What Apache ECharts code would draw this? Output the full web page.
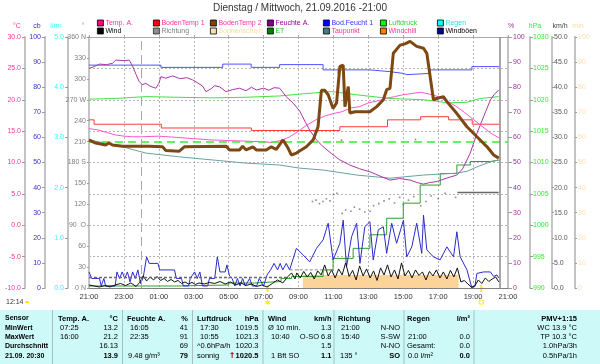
<!DOCTYPE html>
<html><head><meta charset="utf-8">
<script src="https://cdn.jsdelivr.net/npm/echarts@6/dist/echarts.min.js"></script>
<style>html,body{margin:0;padding:0;background:#fff}#c{width:600px;height:364px}</style>
</head><body><div id="c"></div>
<script>
// ---- data (x = hours since 21:00) ----
const xTickLabels = ['21:00','23:00','01:00','03:00','05:00','07:00','09:00','11:00','13:00','15:00','17:00','19:00','21:00'];
const tempA = [[0,15.4],[0.5,15.2],[1,14.8],[1.5,14.4],[2,14.2],[2.5,14.1],[3,14.1],[4,14.2],[5,14.0],[6,13.8],[7,13.6],[8,13.5],[9,13.4],[10,13.3],[10.42,13.2],[11,13.5],[11.5,14.1],[12,15.0],[12.5,16.0],[13,16.8],[13.5,17.4],[14,17.8],[14.5,18.1],[15,18.7],[15.5,18.9],[16,19.5],[16.5,19.8],[17,20.2],[17.5,20.5],[18,20.8],[18.5,21.0],[19,21.2],[19.5,20.9],[20,20.5],[20.5,19.8],[21,19.0],[21.5,18.0],[22,16.9],[22.5,15.8],[23,14.7],[23.5,13.9]];
const bodenTemp1 = [[0,16.8],[0.29,16.1],[4.14,15.5],[9.3,15.1],[14.37,15.7],[17.1,16.8],[19.0,17.3],[20.6,16.8],[21.95,16.1],[23.5,16.1]];
const bodenTemp2 = [[0,13.6],[0.38,13.1],[0.96,12.8],[1.15,13.1],[1.34,12.8],[1.92,12.6],[3.26,12.6],[3.35,12.3],[3.45,12.6],[4.21,12.5],[4.4,11.9],[5.17,11.8],[5.46,12.5],[7.86,12.6],[8.05,12.0],[8.62,12.0],[8.8,12.6],[9.0,12.0],[9.39,12.5],[9.58,12.0],[10.15,12.0],[10.44,12.5],[10.73,12.1],[11.11,13.6],[11.4,12.3],[11.59,11.2],[11.88,11.5],[12.45,12.5],[12.84,13.6],[13.12,15.7],[13.31,21.5],[13.51,21.5],[13.7,20.8],[13.98,18.6],[14.18,19.5],[14.37,25.3],[14.56,25.5],[14.66,18.9],[14.85,22.1],[14.94,17.9],[15.23,18.1],[16.09,18.1],[16.48,18.9],[16.86,20.0],[17.05,21.6],[17.24,21.8],[17.43,27.4],[17.82,28.7],[18.1,28.9],[18.39,29.3],[18.77,28.5],[19.16,28.2],[19.35,27.4],[19.54,23.7],[19.73,20.0],[19.92,20.2],[20.3,20.5],[20.5,19.7],[21.07,17.8],[21.65,15.7],[22.22,14.1],[22.8,12.5],[23.18,11.2],[23.47,10.7]];
const feuchteA = [[0,87.5],[0.3,88.2],[0.6,89.2],[1.0,89.0],[1.34,89.5],[1.53,90.8],[2.0,90.6],[2.3,90.8],[2.49,88.5],[2.7,85.0],[2.87,82.3],[3.05,81.0],[3.26,81.5],[3.5,80.4],[3.83,79.6],[4.0,81.5],[4.12,84.2],[4.4,83.6],[4.79,84.5],[5.2,83.4],[5.6,83.8],[5.94,82.9],[6.2,81.8],[6.5,80.5],[6.7,78.2],[7.0,79.4],[7.2,80.6],[7.47,80.2],[7.85,78.2],[8.2,79.0],[8.62,79.6],[9.0,78.6],[9.3,80.0],[9.58,78.9],[10.0,79.6],[10.3,78.8],[10.6,79.8],[10.92,79.6],[11.3,76.2],[11.7,73.6],[12.07,70.5],[12.4,66.0],[12.64,62.9],[13.03,59.0],[13.41,56.3],[13.9,53.5],[14.37,51.0],[14.94,49.0],[15.5,47.5],[16.09,46.3],[16.6,44.8],[17.24,43.0],[17.8,43.6],[18.39,43.0],[18.8,42.0],[19.16,41.4],[19.5,42.0],[19.92,42.4],[20.5,43.8],[21.07,45.0],[21.4,47.5],[21.65,51.0],[21.84,53.8],[22.22,61.6],[22.6,68.2],[22.99,74.9],[23.2,77.0],[23.47,78.9]];
const bodFeucht1 = [[0,88.8],[4.12,87.9],[7.66,89.2],[9.29,87.9],[10.92,89.0],[13.41,86.9],[14.27,85.5],[14.37,86.9],[16.09,86.2],[17.24,85.5],[18.0,85.0],[18.2,85.5],[19.54,86.9],[21.93,88.2],[23.5,88.2]];
const luftdruck = [[0,1020.1],[1.5,1020.2],[3.26,1020.5],[5,1020.4],[7.1,1020.3],[9,1020.4],[10.9,1020.6],[12.07,1020.9],[13.41,1021.2],[13.9,1021.3],[15.3,1020.8],[17.24,1020.2],[19.16,1020.0],[20.1,1019.7],[20.5,1019.5],[21.65,1019.6],[22.4,1020.2],[23.47,1020.5]];
const pressureRef = 1013.25;
const taupunkt = [[0,13.6],[0.38,13.4],[1.92,12.5],[3.26,11.5],[5.17,10.9],[7.09,10.4],[9.0,9.9],[10.92,9.6],[12.07,9.1],[13.41,8.8],[15.33,8.0],[17.24,7.5],[19.16,8.0],[21.07,8.3],[21.65,8.6],[22.22,9.3],[22.99,10.1],[23.47,10.4]];
const et = [[0,0.04],[5.0,0.06],[8.0,0.1],[9.5,0.13],[11.0,0.19],[11.6,0.23],[13.41,0.36],[13.98,0.59],[15.13,0.79],[16.09,1.06],[17.05,1.39],[18.0,1.69],[18.97,2.05],[20.12,2.28],[21.07,2.45],[21.84,2.52],[23.0,2.55],[23.5,2.55]];
const sonnenschein = [[12.25,5.2],[21.17,5.2]];
const wind = [[0,0.6],[0.3,0.4],[0.6,0.2],[0.9,0.5],[1.2,0.2],[1.5,0.6],[1.8,0.9],[2.1,0.5],[2.4,1.0],[2.7,0.3],[2.9,1.1],[3.1,2.4],[3.3,1.4],[3.5,2.2],[3.7,1.6],[3.9,2.3],[4.1,1.5],[4.3,1.9],[4.5,1.3],[4.7,1.7],[4.9,1.2],[5.1,1.5],[5.3,0.9],[5.5,1.2],[5.7,0.8],[5.9,1.1],[6.1,0.7],[6.3,1.0],[6.6,0.8],[6.9,1.1],[7.2,0.9],[7.5,1.3],[7.8,0.8],[8.1,1.2],[8.4,0.6],[8.7,1.0],[9.0,0.5],[9.3,0.8],[9.6,0.3],[9.9,0.6],[10.2,0.2],[10.5,0.9],[10.8,1.6],[11.1,1.0],[11.4,2.3],[11.6,3.0],[11.8,1.8],[11.9,3.0],[12.1,2.0],[12.3,3.3],[12.5,2.2],[12.7,3.1],[12.9,1.8],[13.1,3.4],[13.3,2.6],[13.5,4.6],[13.7,2.4],[13.9,3.6],[14.1,2.0],[14.3,3.8],[14.5,2.6],[14.7,5.0],[14.9,2.3],[15.1,3.5],[15.3,1.6],[15.5,4.4],[15.7,2.4],[15.9,3.8],[16.1,2.0],[16.3,3.4],[16.5,1.5],[16.7,4.0],[16.9,2.6],[17.1,4.6],[17.3,2.2],[17.5,3.6],[17.7,1.8],[17.9,5.0],[18.1,2.4],[18.3,3.5],[18.5,2.0],[18.7,3.6],[18.9,2.5],[19.1,3.2],[19.3,1.6],[19.5,3.3],[19.7,2.4],[19.9,3.6],[20.1,2.0],[20.3,3.2],[20.5,1.8],[20.7,3.5],[20.9,2.2],[21.1,4.0],[21.3,1.2],[21.5,1.5],[21.7,0.8],[21.9,0.2],[22.1,0.4],[22.3,1.6],[22.5,0.9],[22.7,2.0],[22.9,1.3],[23.1,1.8],[23.3,2.2],[23.47,1.2]];
const windboeen = [[0,3.2],[0.15,1.9],[0.6,1.9],[0.7,0.4],[0.85,1.9],[0.95,0.4],[1.5,0.4],[1.6,3.2],[1.75,1.9],[1.9,3.2],[2.05,1.9],[2.2,3.2],[2.35,1.2],[2.5,3.2],[2.65,1.9],[2.8,3.6],[2.95,0.9],[3.1,2.0],[3.3,6.2],[3.45,4.9],[3.95,4.9],[4.05,3.6],[4.9,3.6],[5.0,1.9],[5.3,1.9],[5.4,0.4],[5.7,0.4],[5.8,1.9],[6.05,3.2],[6.2,1.9],[6.35,3.2],[6.5,0.4],[6.8,0.4],[6.9,1.9],[7.2,1.9],[7.35,6.2],[7.5,3.2],[7.8,3.2],[7.9,4.6],[8.05,2.4],[8.2,1.9],[8.35,0.4],[8.5,1.9],[8.65,0.4],[8.8,1.9],[8.95,0.4],[9.2,1.9],[9.35,0.4],[9.6,0.4],[9.75,1.9],[10.0,0.4],[10.2,2.6],[10.4,3.6],[10.6,4.9],[10.8,3.6],[10.95,4.9],[11.1,3.6],[11.3,4.9],[11.49,3.6],[11.88,7.9],[12.26,6.6],[12.64,5.2],[13.03,7.9],[13.41,9.6],[13.7,12.9],[13.98,5.6],[14.37,8.9],[14.56,13.5],[14.75,4.2],[15.04,10.2],[15.33,12.9],[15.52,4.9],[15.8,12.2],[16.09,13.2],[16.28,5.6],[16.57,11.6],[16.86,12.2],[17.05,6.9],[17.34,12.9],[17.62,8.9],[18.01,13.5],[18.2,6.2],[18.49,8.2],[18.77,12.9],[19.06,6.9],[19.16,14.5],[19.35,7.6],[19.73,6.2],[20.11,5.6],[20.5,8.2],[20.88,6.2],[21.07,11.2],[21.26,6.2],[21.65,3.6],[21.93,0.0],[22.1,0.3],[22.22,2.9],[22.6,3.2],[22.99,3.2],[23.18,2.3],[23.37,2.6],[23.47,2.0]];
const richtung = [[12.8,124],[13.0,126],[13.2,121],[13.4,124],[13.6,128],[13.8,125],[14.0,134],[14.2,136],[14.46,212],[14.5,107],[14.7,112],[15.0,110],[15.2,116],[15.5,113],[15.8,109],[16.1,110],[16.3,118],[16.6,121],[16.9,125],[17.2,128],[17.5,122],[17.8,130],[18.0,120],[18.3,126],[18.6,131],[18.7,213],[19.0,118],[19.3,124],[19.6,132],[20.0,128],[20.4,136],[21.0,130]];
const richtungCalmNight = [[0,15],[11.5,15]];
const richtungCalmMorning = [[11.5,26],[14,26]];
const richtungCalmEvening = [[21.1,137],[23.47,137]];
const regen = [];
const windchill = [];
const midnight = 3, nowTime = 23.5, sunrise = 10.23, sunset = 22.47;

const FF = '"Liberation Sans", Arial, sans-serif';
const chart = echarts.init(document.getElementById('c'));

function yAx(position, offset, min, max, interval, color, fmt, margin, tickLen, split) {
  return {
    type: 'value', position, offset, min, max, interval,
    axisLine: {show: true, onZero: false, lineStyle: {color: '#c4c4c4', width: 2}},
    axisTick: {show: true, length: tickLen, lineStyle: {color: '#9a9a9a'}},
    axisLabel: {color, fontSize: 7, fontFamily: FF, margin, formatter: fmt},
    splitLine: split ? {show: true, lineStyle: {color: '#b4b4b4', type: [2, 2], width: 1}} : {show: false}
  };
}
const dirNames = {360: '360 N', 270: '270 W', 180: '180 S', 90: '90  O', 0: '0 N'};

function ln(name, yi, data, color, width, extra) {
  return Object.assign({
    name, type: 'line', yAxisIndex: yi, data, showSymbol: false, symbol: 'none',
    color, lineStyle: {color, width}, animation: false
  }, extra || {});
}

// legend columns: [row1 name, row2 name]
const legendCols = [['Temp. A.', 'Wind'], ['BodenTemp 1', 'Richtung'], ['BodenTemp 2', 'Sonnenschein'], ['Feuchte A.', 'ET'],
  ['Bod.Feucht 1', 'Taupunkt'], ['Luftdruck', 'Windchill'], ['Regen', 'Windböen']];
const legendColX = [97, 153, 210, 267, 323, 380, 437];
const legendText = {'Temp. A.': '#ff3399', 'BodenTemp 1': '#ff3399', 'BodenTemp 2': '#ff3399', 'Feuchte A.': '#990099',
  'Bod.Feucht 1': '#3333ff', 'Luftdruck': '#33cc33', 'Regen': '#33dddd', 'Wind': '#000', 'Richtung': '#808080',
  'Sonnenschein': '#ffd9a8', 'ET': '#33cc33', 'Taupunkt': '#ff3399', 'Windchill': '#ff3399', 'Windböen': '#000'};
const legends = legendCols.map((names, i) => ({
  data: names.map(n => ({name: n, textStyle: {color: legendText[n]}})),
  orient: 'vertical', left: legendColX[i], top: 19, padding: 0, itemWidth: 6, itemHeight: 6, itemGap: 0,
  icon: 'rect', selectedMode: false,
  textStyle: {fontSize: 7, fontFamily: FF, lineHeight: 8, padding: [0, 0, 0, -3]},
  itemStyle: {borderColor: '#000', borderWidth: 0.8}
}));

const option = {
  animation: false,
  backgroundColor: '#fff',
  title: {text: 'Dienstag / Mittwoch, 21.09.2016 -21:00', left: 'center', top: 3, padding: 0,
    textStyle: {fontSize: 10, fontWeight: 'normal', color: '#333', fontFamily: FF}},
  legend: legends,
  grid: {left: 89, right: 92, top: 37, bottom: 76, containLabel: false, outerBoundsMode: 'none'},
  xAxis: [
    {type: 'value', min: 0, max: 24, interval: 2, position: 'bottom',
      axisLine: {onZero: false, lineStyle: {color: '#808080', width: 1}},
      axisTick: {show: false},
      axisLabel: {fontSize: 7.5, color: '#333', fontFamily: FF, margin: 5, formatter: v => xTickLabels[Math.round(v / 2)]},
      splitLine: {show: true, lineStyle: {color: '#b4b4b4', type: [2, 2], width: 1}}},
    {type: 'value', min: 0, max: 24, interval: 2, position: 'top',
      axisLine: {onZero: false, lineStyle: {color: '#a8a8a8', width: 1}},
      axisTick: {show: true, length: 2, lineStyle: {color: '#a8a8a8'}},
      axisLabel: {show: false}, splitLine: {show: false}}
  ],
  yAxis: [
    yAx('left', 64, -10, 30, 5, '#ff3399', v => v.toFixed(1), 4, 3, true),
    yAx('left', 44, 0, 100, 10, '#3333cc', v => String(v), 4, 3, false),
    yAx('left', 21, 0, 5, 1, '#33ffff', v => v.toFixed(1), 4, 3, false),
    yAx('left', 0, 0, 360, 30, '#808080', v => dirNames[v] || String(v), 3, 2, false),
    yAx('right', 0, 0, 100, 10, '#993399', v => String(v), 5, 4, false),
    yAx('right', 22, 990, 1030, 5, '#33ee33', v => String(v), 3, 3, false),
    yAx('right', 44, 0, 50, 5, '#555555', v => v.toFixed(1), 2, 2, false),
    yAx('right', 67, 0, 100, 10, '#ffdcb0', v => String(v), 3, 2, false)
  ],
  series: [
    ln('Sonnenschein', 7, sonnenschein, '#ffe0b0', 0, {areaStyle: {color: '#fcd49a', opacity: 1}, z: 1}),
    ln('ET', 2, et, '#008000', 1, {step: 'end', lineStyle: {color: '#2e9e2e', width: 1}}),
    ln('Regen', 2, regen, '#00ffff', 1),
    ln('Taupunkt', 0, taupunkt, '#408080', 1, {lineStyle: {color: '#6aa2a2', width: 1}}),
    ln('Windchill', 0, windchill, '#ff8000', 1),
    ln('Luftdruck', 5, luftdruck, '#00ff00', 1, {lineStyle: {color: '#44e044', width: 1},
      markLine: {silent: true, symbol: ['none', 'none'], label: {show: false},
        lineStyle: {color: '#33ee33', type: [8, 5], width: 1.5}, data: [{yAxis: pressureRef}]}}),
    ln('Bod.Feucht 1', 1, bodFeucht1, '#0000ff', 1, {step: 'end', lineStyle: {color: '#5050ff', width: 1}}),
    ln('Feuchte A.', 4, feuchteA, '#800080', 1, {lineStyle: {color: '#a838a8', width: 1}}),
    ln('BodenTemp 1', 0, bodenTemp1, '#ff0000', 1, {step: 'end', lineStyle: {color: '#ff3a3a', width: 1}}),
    ln('Temp. A.', 0, tempA, '#ff0080', 1, {lineStyle: {color: '#ff55cc', width: 1},
      markLine: {silent: true, symbol: ['none', 'none'], label: {show: false},
        data: [{xAxis: midnight, lineStyle: {color: '#a8a8a8', type: [9, 5], width: 1}},
               {xAxis: nowTime, lineStyle: {color: '#8a8a8a', type: 'solid', width: 1.5}}]}}),
    ln('Windböen', 6, windboeen, '#000080', 1, {lineStyle: {color: '#2b2bcc', width: 1}}),
    ln('Wind', 6, wind, '#000000', 1, {lineStyle: {color: '#111', width: 1}}),
    {name: 'Richtung', type: 'scatter', yAxisIndex: 3, data: richtung, symbol: 'rect', symbolSize: 1.6, color: '#808080', itemStyle: {color: '#707070'}},
    ln('Richtung', 3, richtungCalmNight, '#808080', 1.5, {lineStyle: {color: '#6a6a6a', width: 1.5, type: [3, 2]}}),
    ln('Richtung', 3, richtungCalmMorning, '#808080', 1, {lineStyle: {color: '#8a8a8a', width: 1, type: [3, 2]}}),
    ln('Richtung', 3, richtungCalmEvening, '#808080', 1.5, {lineStyle: {color: '#6a6a6a', width: 1.5}}),
    ln('BodenTemp 2', 0, bodenTemp2, '#804000', 3, {lineStyle: {color: '#7d4812', width: 3}, z: 5})
  ]
};
chart.setOption(option);

// ---- graphics: axis names, sun markers, table ----
const g = [];
const axisNames = [['°C', 17, '#ff3399'], ['cb', 37, '#3333cc'], ['l/m²', 56, '#33ffff'], ['°', 83, '#999'],
  ['%', 511, '#993399'], ['hPa', 535, '#33ee33'], ['km/h', 560, '#444'], ['min', 578, '#ffd9a8']];
axisNames.forEach(a => g.push({type: 'text', x: a[1], y: 26, style: {text: a[0], fill: a[2], font: '7px ' + FF, align: 'center', verticalAlign: 'middle'}}));

const sx1 = chart.convertToPixel({xAxisIndex: 0}, sunrise);
const sx2 = chart.convertToPixel({xAxisIndex: 0}, sunset);
const by = chart.convertToPixel({yAxisIndex: 0}, -10);
g.push({type: 'line', shape: {x1: sx1, y1: by - 3, x2: sx1, y2: by + 4}, style: {stroke: '#ffee00', lineWidth: 2}});
g.push({type: 'line', shape: {x1: sx2, y1: by - 3, x2: sx2, y2: by + 4}, style: {stroke: '#ffee00', lineWidth: 2}});
g.push({type: 'text', x: sx1, y: by + 15, style: {text: '✱', fill: '#ffee00', font: '7px "DejaVu Sans"', align: 'center', verticalAlign: 'middle'}});
g.push({type: 'rect', shape: {x: sx2 - 2, y: by + 12, width: 4, height: 4}, style: {fill: 'none', stroke: '#ffee00', lineWidth: 1}});
g.push({type: 'text', x: 6, y: 302, style: {text: '12:14', fill: '#333', font: '7px ' + FF, verticalAlign: 'middle'}});
g.push({type: 'rect', shape: {x: 25, y: 301, width: 4, height: 2}, style: {fill: '#ffee00'}});

// table
g.push({type: 'rect', shape: {x: 0, y: 310, width: 600, height: 54}, style: {fill: '#cdf9f9'}});
[52.5, 122.5, 192.5, 263, 334, 404, 474].forEach(x => g.push({type: 'line', shape: {x1: x, y1: 310, x2: x, y2: 364}, style: {stroke: '#a9bfbf', lineWidth: 1}}));
const colX = [5, 60, 118, 130, 188, 200, 258.5, 271, 331.5, 341, 400, 408, 470, 577];
const colAlign = ['left', 'left', 'right', 'left', 'right', 'left', 'right', 'left', 'right', 'left', 'right', 'left', 'right', 'right'];
const tableRows = [
  ['Sensor', 'Temp. A.', '°C', 'Feuchte A.', '%', 'Luftdruck', 'hPa', 'Wind', 'km/h', 'Richtung', '', 'Regen', 'l/m²', 'PMV+1:15'],
  ['MinWert', '07:25', '13.2', '16:05', '41', '17:30', '1019.5', 'Ø 10 min.', '1.3', '21:00', 'N-NO', '', '', 'WC 13.9 °C'],
  ['MaxWert', '16:00', '21.2', '22:35', '91', '10:55', '1021.3', '10:40', 'O-SO 6.8', '15:40', 'S-SW', '21:00', '0.0', 'TP 10.3 °C'],
  ['Durchschnitt', '', '16.13', '', '69', '^0.6hPa/h', '1020.3', '', '1.5', '', 'N-NO', 'Gesamt:', '0.0', '1.0hPa/3h'],
  ['21.09. 20:30', '', '13.9', '9.48 g/m³', '79', 'sonnig', '↑1020.5', '1 Bft SO', '1.1', '135 °', 'SO', '0.0 l/m²', '0.0', '0.5hPa/1h']
];
const rowY = [318.5, 327.8, 337.1, 346.4, 355.7];
const shift = {'Temp. A.': -2, 'Feuchte A.': -3, 'Luftdruck': -3, 'Wind': -3, 'Richtung': -3, 'Regen': -1, 'Ø 10 min.': -3,
  '^0.6hPa/h': -3, 'sonnig': -3, '9.48 g/m³': -2, '135 °': -1, 'Gesamt:': -1};
tableRows.forEach((row, r) => row.forEach((txt, c) => {
  if (!txt) return;
  const bold = r === 0 || c === 0 || (r === 4 && c % 2 === 0 && c > 0 && c < 13);
  const size = c === 0 ? '7px ' : '7.5px ';
  const font = (bold ? 'bold ' : '') + size + FF;
  const x = colX[c] + (shift[txt] || 0);
  if (txt.startsWith('↑')) {
    g.push({type: 'text', x, y: rowY[r], style: {text: '{a|↑}{b|' + txt.slice(1) + '}', align: 'right', verticalAlign: 'middle',
      rich: {a: {fill: '#990000', font: 'bold 8px "DejaVu Sans"'}, b: {fill: '#000', font}}}});
  } else {
    g.push({type: 'text', x, y: rowY[r], style: {text: txt, fill: '#000', font, align: colAlign[c], verticalAlign: 'middle'}});
  }
}));
chart.setOption({graphic: g});
</script>
</body></html>
